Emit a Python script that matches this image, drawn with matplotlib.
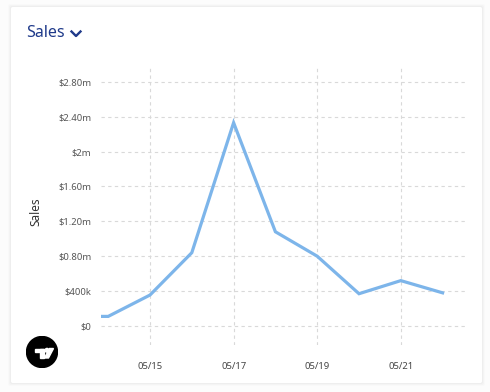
import matplotlib
matplotlib.use("Agg")
import matplotlib.pyplot as plt
from matplotlib.patches import FancyBboxPatch
import datetime as dt

# Data
dates = ["2024-05-13", "2024-05-14", "2024-05-15", "2024-05-16", "2024-05-17",
         "2024-05-18", "2024-05-19", "2024-05-20", "2024-05-21", "2024-05-22"]
sales = [110000, 110000, 355000, 840000, 2330000, 1080000, 800000, 370000, 520000, 380000]
y_ticks = [0, 400000, 800000, 1200000, 1600000, 2000000, 2400000, 2800000]
y_tick_labels = ["$0", "$400k", "$0.80m", "$1.20m", "$1.60m", "$2m", "$2.40m", "$2.80m"]
x_ticks = ["2024-05-15", "2024-05-17", "2024-05-19", "2024-05-21"]
x_tick_labels = ["05/15", "05/17", "05/19", "05/21"]

FONT = "Noto Sans"
W, H = 490, 392
fig = plt.figure(figsize=(W / 100, H / 100), dpi=100)
fig.patch.set_facecolor("#fcfcfc")

# card with soft shadow
for i, a in enumerate([0.025, 0.018, 0.012]):
    s = FancyBboxPatch(((11 - 1 - i) / W, 1 - (383 + 1 + i) / H), (471 + 2 + 2 * i) / W, (376 + 2 + 2 * i) / H,
                       boxstyle="round,pad=0,rounding_size=0.004", transform=fig.transFigure,
                       facecolor="black", edgecolor="none", alpha=a, zorder=0)
    fig.patches.append(s)
card = FancyBboxPatch((11 / W, 1 - 383 / H), 471 / W, 376 / H,
                      boxstyle="round,pad=0,rounding_size=0.004", transform=fig.transFigure,
                      facecolor="white", edgecolor="none", zorder=1)
fig.patches.append(card)

# axes: left 101, right 465, top 67, bottom 345
ax = fig.add_axes([101 / W, 1 - 345 / H, (465 - 101) / W, (345 - 67) / H])
ax.set_facecolor("none")
ax.set_zorder(2)

d = [dt.datetime.strptime(s, "%Y-%m-%d") for s in dates]
ax.plot(d, sales, color="#7db5ea", linewidth=2.3, solid_joinstyle="miter", clip_on=True)

x0 = dt.datetime(2024, 5, 15) - dt.timedelta(days=49 / 41.8)
x1 = dt.datetime(2024, 5, 15) + dt.timedelta(days=(465 - 150) / 41.8)
ax.set_xlim(x0, x1)
per_px = 400000 / 34.9
ax.set_ylim(-(345 - 326) * per_px, (326 - 67) * per_px)

ax.set_yticks(y_ticks)
ax.set_yticklabels(y_tick_labels)
xt = [dt.datetime.strptime(s, "%Y-%m-%d") for s in x_ticks]
ax.set_xticks(xt)
ax.set_xticklabels(x_tick_labels)

for s in ax.spines.values():
    s.set_visible(False)
ax.tick_params(axis="y", length=0, pad=7, labelsize=6.8, labelcolor="#555555")
ax.tick_params(axis="x", length=0, pad=12, labelsize=6.8, labelcolor="#444444")
for lbl in ax.get_xticklabels():
    lbl.set_fontweight("bold")
for lbl in ax.get_yticklabels() + ax.get_xticklabels():
    lbl.set_fontfamily(FONT)

ax.grid(True, color="#d9d9d9", linestyle=(0, (3, 3)), linewidth=0.8)
ax.set_axisbelow(True)

fig.text(36 / W, 1 - 212 / H, "Sales", rotation=90, ha="center", va="center",
         fontsize=8.5, color="#333333", family=FONT)

# Title
fig.text(26 / W, 1 - 33 / H, "Sales", ha="left", va="center", fontsize=11.5,
         color="#1f3a8a", family=FONT)
fig.lines.append(plt.Line2D([71.5 / W, 76 / W, 80.5 / W], [1 - 31.5 / H, 1 - 36 / H, 1 - 31.5 / H],
                            transform=fig.transFigure, color="#1f3a8a", linewidth=1.7, zorder=3))

# Logo (32 px box, top-left at 26,336)
logo_ax = fig.add_axes([26 / W, 1 - 368 / H, 32 / W, 32 / H])
logo_ax.set_zorder(3)
logo_ax.set_xlim(0, 32); logo_ax.set_ylim(32, 0)
logo_ax.axis("off")
logo_ax.add_patch(plt.Circle((16, 16), 15.5, color="black"))
logo_ax.add_patch(plt.Rectangle((9, 12.5), 9, 3.5, color="white"))
logo_ax.add_patch(plt.Rectangle((14.2, 12.5), 3.8, 9.5, color="white"))
logo_ax.add_patch(plt.Circle((21, 14.3), 1.9, color="white"))
logo_ax.add_patch(plt.Polygon([[23.5, 12.5], [27.5, 12.5], [22.5, 22], [18.5, 22]], color="white"))

fig.savefig("out.png", dpi=100, facecolor=fig.get_facecolor())
